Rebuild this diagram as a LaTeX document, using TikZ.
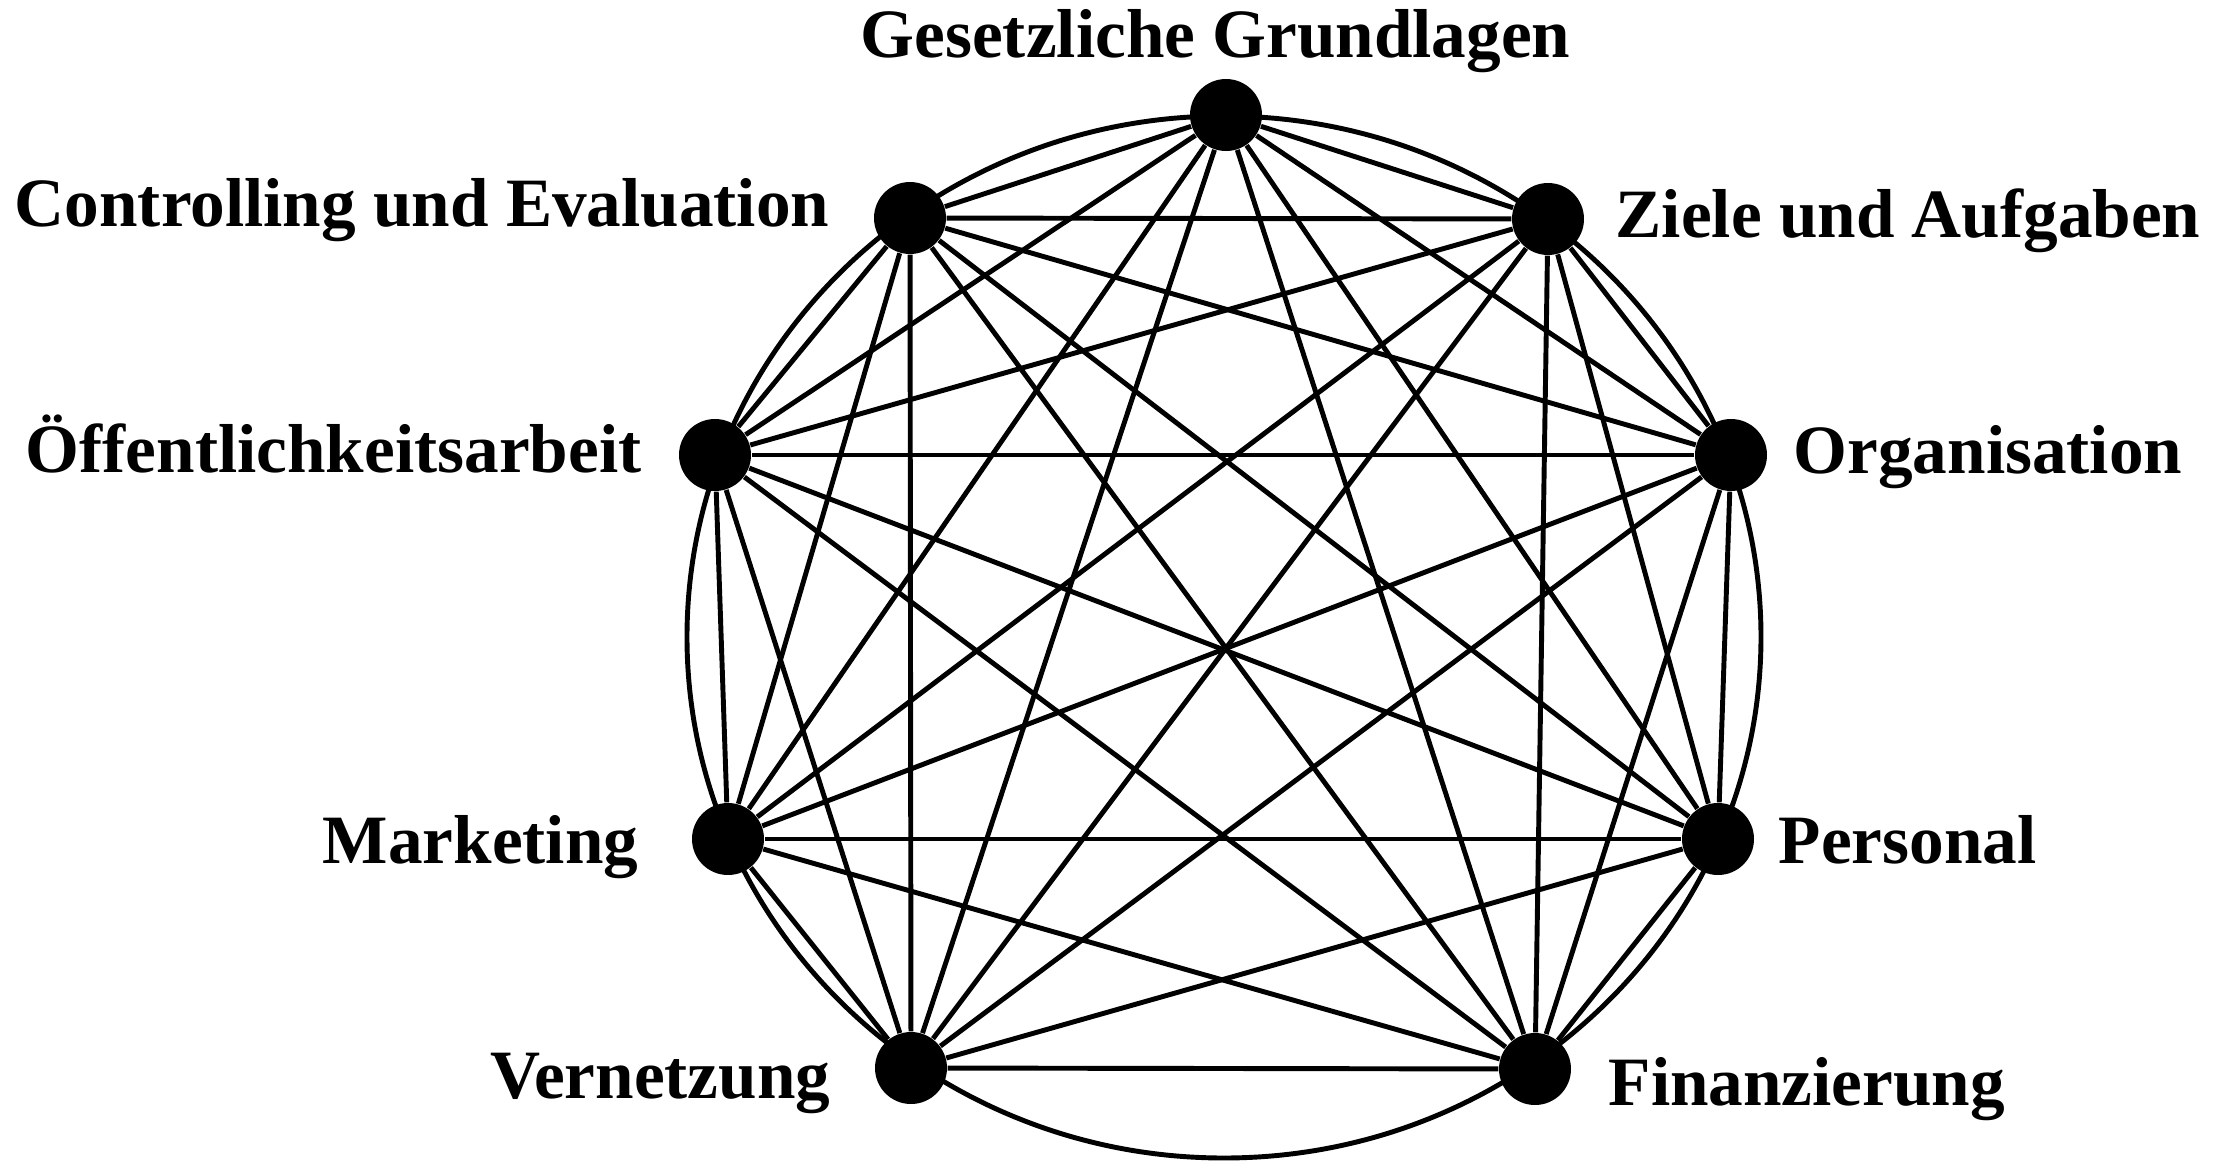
\documentclass[tikz,border=0pt]{standalone}
\usepackage{fontspec}
\setmainfont{Liberation Serif}
\begin{document}
\begin{tikzpicture}[
  dot/.style={circle,fill=black,draw=none,minimum size=0.72cm,inner sep=0pt},
  lbl/.style={inner sep=0pt,font=\fontsize{19.7}{22}\selectfont\bfseries},
  edge/.style={line width=1.4pt,black},
]
\useasboundingbox (0,0) rectangle (22.30,11.62);
% outer circle
\draw[edge] (12.24,5.25) ellipse [x radius=5.37cm, y radius=5.21cm];
% nodes
\node[dot] (G) at (12.26,10.47) {};
\node[dot] (Z) at (15.48,9.43) {};
\node[dot] (O) at (17.31,7.07) {};
\node[dot] (P) at (17.18,3.23) {};
\node[dot] (F) at (15.35,0.93) {};
\node[dot] (V) at (9.11,0.94) {};
\node[dot] (M) at (7.28,3.23) {};
\node[dot] (OE) at (7.15,7.07) {};
\node[dot] (C) at (9.10,9.44) {};
% complete graph
\foreach \a/\b in {G/Z,G/O,G/P,G/F,G/V,G/M,G/OE,G/C,
                   Z/O,Z/P,Z/F,Z/V,Z/M,Z/OE,Z/C,
                   O/P,O/F,O/V,O/M,O/OE,O/C,
                   P/F,P/V,P/M,P/OE,P/C,
                   F/V,F/M,F/OE,F/C,
                   V/M,V/OE,V/C,
                   M/OE,M/C,
                   OE/C}
  \draw[edge] (\a) -- (\b);
% labels
\node[lbl,anchor=base] (tG) at (12.155,11.05) {Gesetzliche Grundlagen};
\node[lbl,anchor=base east] (tC) at (8.30,9.36) {Controlling und Evaluation};
\node[lbl,anchor=base east] (tOE) at (6.42,6.90) {Öffentlichkeitsarbeit};
\node[lbl,anchor=base east] (tM) at (6.39,2.99) {Marketing};
\node[lbl,anchor=base east] (tV) at (8.31,0.64) {Vernetzung};
\node[lbl,anchor=base west] (tZ) at (16.15,9.25) {Ziele und Aufgaben};
\node[lbl,anchor=base west] (tO) at (17.93,6.89) {Organisation};
\node[lbl,anchor=base west] (tP) at (17.78,2.99) {Personal};
\node[lbl,anchor=base west] (tF) at (16.08,0.57) {Finanzierung};
\end{tikzpicture}
\end{document}
